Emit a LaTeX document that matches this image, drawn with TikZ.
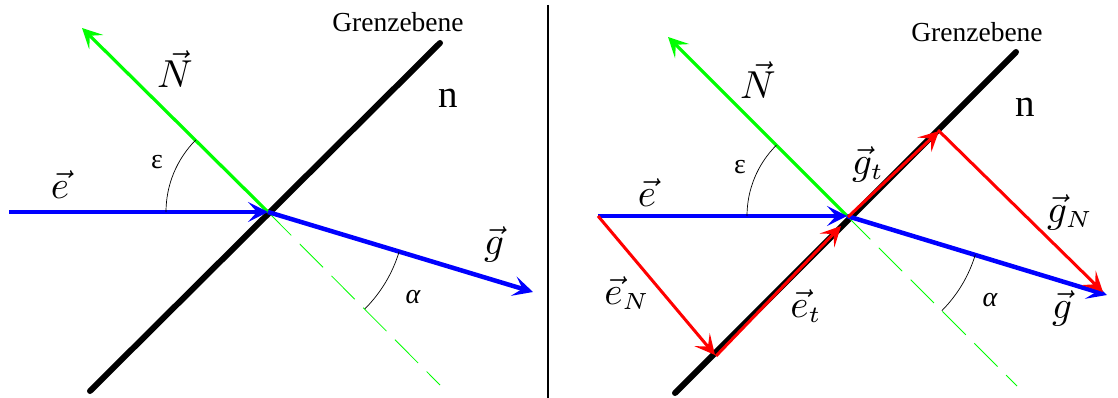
\documentclass[tikz,border=0pt]{standalone}
\usepackage{fontspec}
\newfontfamily\timesf{Liberation Serif}
\DeclareMathSizes{10}{10}{6}{5}
\usetikzlibrary{arrows.meta}
\tikzset{
  wall/.style={line width=6pt, line cap=round},
  tipA/.style={-{Stealth[length=20pt,width=20pt,inset=9pt]}},
  normvec/.style={draw=green, line width=3.2pt, tipA},
  normdash/.style={draw=green, line width=0.8pt, dash pattern=on 33pt off 12pt},
  bluevec/.style={draw=blue, line width=4.5pt, tipA},
  redvec/.style={draw=red, line width=3pt, tipA},
  anglearc/.style={line width=0.7pt},
  vlab/.style={inner sep=0pt},
  glab/.style={font=\timesf\fontsize{28}{30}\selectfont, inner sep=0pt},
  nlab/.style={font=\timesf\fontsize{39}{40}\selectfont, inner sep=0pt},
  tlab/.style={font=\timesf\fontsize{27.5}{30}\selectfont, inner sep=0pt},
  sep/.style={line width=1.4pt}
}
\newcommand{\vlabtext}[1]{\scalebox{3.9}{$#1$}}
\begin{document}
\begin{tikzpicture}[x=1pt,y=-1pt]
\useasboundingbox (0,0) rectangle (1118,398);
% ---------- left panel ----------
\coordinate (I1) at (268,212);
\coordinate (W1a) at (90,391);
\coordinate (W1b) at (440,43);
\coordinate (N1) at (82,28);
\coordinate (E1) at (9,212);
\coordinate (G1) at (533,292);
\coordinate (D1) at (440,385);
\draw[wall] (W1a) -- (W1b);
\draw[normdash] (I1) -- (D1);
\draw[normvec] (I1) -- (N1);
\draw[bluevec] (E1) -- (I1);
\draw[bluevec] (I1) -- (G1);
\draw[anglearc] ([shift={(180:102)}]I1) arc[start angle=180, end angle=225, radius=102];
\draw[anglearc] ([shift={(45:137)}]I1) arc[start angle=45, end angle=16.8, radius=137];
\node[vlab] (Nl1) at (175,69) {\vlabtext{\vec{N}}};
\node[vlab] (el1) at (60,185) {\vlabtext{\vec{e}}};
\node[vlab] (gl1) at (494,244) {\vlabtext{\vec{g}}};
\node[glab] (eps1) at (157,162) {ε};
\node[glab] (al1) at (413,297) {\itshape α};
\node[nlab] (n1) at (448,98) {n};
\node[tlab] (Gz1) at (398,22) {Grenzebene};
% ---------- separator ----------
\coordinate (S1) at (548,5);
\coordinate (S2) at (548,398);
\draw[sep] (S1) -- (S2);
% ---------- right panel ----------
\coordinate (I2) at (847,216);
\coordinate (W2a) at (675,393);
\coordinate (W2b) at (1016,52);
\coordinate (N2) at (668,37);
\coordinate (E2) at (598,216);
\coordinate (G2) at (1107,295);
\coordinate (D2) at (1017,386);
\coordinate (EN) at (715,355);
\coordinate (ET) at (840,225);
\coordinate (GT) at (938,130);
\coordinate (GN) at (1103,292);
\draw[wall] (W2a) -- (W2b);
\draw[normdash] (I2) -- (D2);
\draw[normvec] (I2) -- (N2);
\draw[bluevec] (E2) -- (I2);
\draw[bluevec] (I2) -- (G2);
\draw[redvec] (E2) -- (EN);
\draw[redvec] ([shift={(1,1)}]EN) -- ([shift={(1,1)}]ET);
\draw[redvec] ([shift={(1,1)}]I2) -- ([shift={(1,1)}]GT);
\draw[redvec] (GT) -- (GN);
\draw[anglearc] ([shift={(180:100)}]I2) arc[start angle=180, end angle=225, radius=100];
\draw[anglearc] ([shift={(45:134)}]I2) arc[start angle=45, end angle=16.7, radius=134];
\node[vlab] (Nl2) at (758,80) {\vlabtext{\vec{N}}};
\node[vlab] (el2) at (647,193) {\vlabtext{\vec{e}}};
\node[vlab] (gtl) at (868,164) {\vlabtext{\vec{g}_t}};
\node[vlab] (etl) at (806,306) {\vlabtext{\vec{e}_t}};
\node[vlab] (enl) at (627,293) {\vlabtext{\vec{e}_N}};
\node[vlab] (gnl) at (1070,212) {\vlabtext{\vec{g}_N}};
\node[vlab] (gl2) at (1062,308) {\vlabtext{\vec{g}}};
\node[glab] (eps2) at (740,167) {ε};
\node[glab] (al2) at (990,300) {\itshape α};
\node[nlab] (n2) at (1025,107) {n};
\node[tlab] (Gz2) at (977,32) {Grenzebene};
\end{tikzpicture}
\end{document}
